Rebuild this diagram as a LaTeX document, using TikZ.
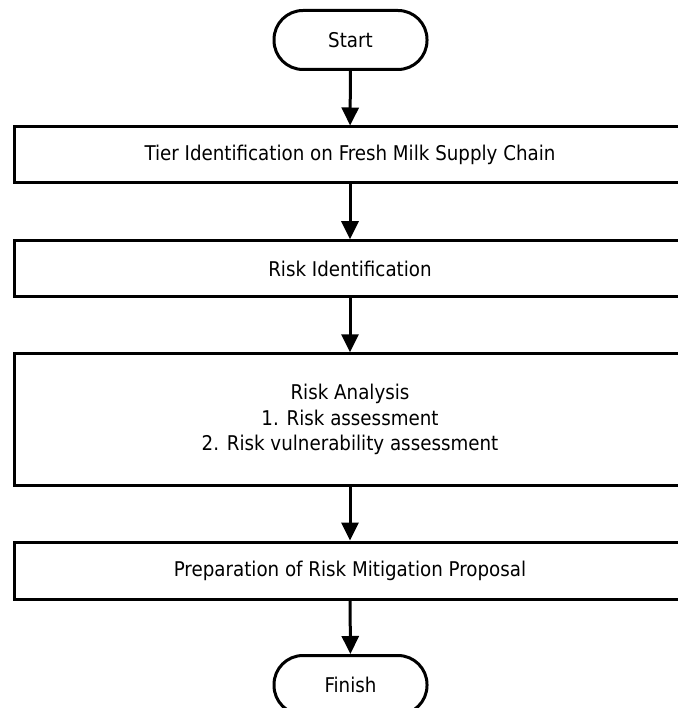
\documentclass[tikz,border=0pt]{standalone}
\usepackage{fontspec}
\setmainfont{DejaVu Sans Condensed}
\usetikzlibrary{arrows.meta}
\begin{document}
\begin{tikzpicture}[x=1pt,y=-1pt,
  every node/.style={font=\fontsize{20.3}{25.5}\selectfont, inner sep=0pt, align=center},
  terminal/.style={draw, line width=3pt, rounded corners=29pt, minimum width=153pt, minimum height=59pt},
  procbox/.style={draw, line width=3pt, minimum width=672pt},
  flow/.style={line width=3pt, -{Triangle[length=18pt,width=17pt]}}]
\useasboundingbox (0,0) rectangle (677,708);
\node[terminal] (start) at (350.5,40) {Start};
\node[procbox, minimum height=56pt] (tier) at (350,155) {Tier Identification on Fresh Milk Supply Chain};
\node[procbox, minimum height=56pt] (riskid) at (350,268.7) {Risk Identification};
\node[procbox, minimum height=132pt] (analysis) at (350,419.8) {Risk Analysis\\1. Risk assessment\\2. Risk vulnerability assessment};
\node[procbox, minimum height=57pt] (prep) at (350,570.5) {Preparation of Risk Mitigation Proposal};
\node[terminal] (finish) at (350.5,685) {Finish};
\draw[flow] (start) -- (tier);
\draw[flow] (tier) -- (riskid);
\draw[flow] (riskid) -- (analysis);
\draw[flow] (analysis) -- (prep);
\draw[flow] (prep) -- (finish);
\end{tikzpicture}
\end{document}
